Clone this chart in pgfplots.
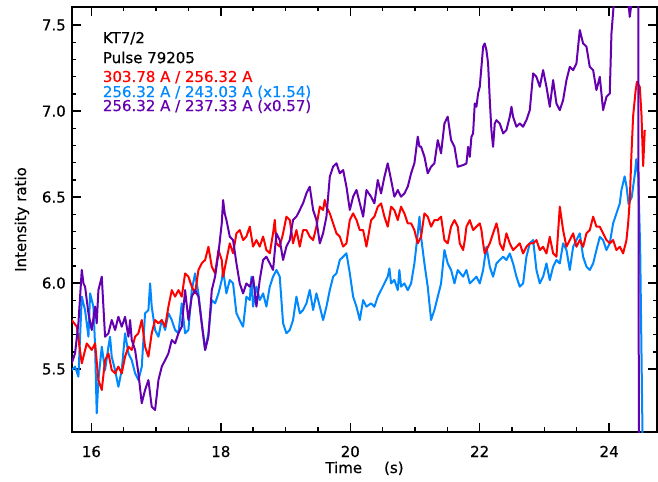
\documentclass[border=0pt]{standalone}
\usepackage{pgfplots}
\pgfplotsset{compat=1.18}
\usepackage{fontspec}
\setmainfont[FakeBold=0.5]{DejaVu Sans}
\definecolor{cred}{RGB}{255,0,0}
\definecolor{cblue}{RGB}{0,136,255}
\definecolor{cpurp}{RGB}{100,0,176}
\begin{document}
\fontsize{15bp}{17bp}\selectfont
\begin{tikzpicture}
\begin{axis}[
 scale only axis, width=585bp, height=425bp,
 xmin=15.70, xmax=24.74, ymin=5.134, ymax=7.605,
 xtick={16,18,20,22,24}, minor x tick num=3,
 ytick={5.5,6.0,6.5,7.0,7.5}, minor y tick num=4,
 tick pos=both, tick align=inside,
 major tick length=9bp, minor tick length=4.5bp,
 every tick/.style={black, line width=1.4bp},
 axis line style={line width=1.6bp},
 /pgf/number format/assume math mode=true,
 every x tick label/.style={anchor=base, yshift=-25bp},
 every y tick label/.style={anchor=east, inner sep=0pt, xshift=-6bp},
 yticklabel={\pgfmathprintnumber[fixed,fixed zerofill,precision=1]{\tick}},
 xlabel={Time\hspace{22bp}(s)},
 ylabel={Intensity ratio},
 every axis x label/.style={at={(axis description cs:0.5,-0.0965)}, anchor=base},
 every axis y label/.style={at={(axis description cs:-0.0786,0.5)}, anchor=base, rotate=90},
 every axis plot/.append style={line width=2bp, mark=none, line join=round},
]
\coordinate (SW) at (rel axis cs:0,0);
\coordinate (NE) at (rel axis cs:1,1);
% blue
\addplot[cblue] coordinates {
(15.696,5.494)(15.747,5.514)(15.799,5.456)(15.851,5.921)(15.902,5.843)(15.954,5.688)(15.980,5.940)(16.031,5.863)(16.057,5.630)(16.082,5.242)(16.108,5.436)(16.160,5.630)(16.211,5.494)(16.263,5.630)(16.288,5.688)(16.314,5.572)(16.366,5.494)(16.417,5.397)(16.469,5.494)(16.520,5.708)(16.572,5.591)(16.623,5.552)(16.675,5.475)(16.726,5.436)(16.778,5.514)(16.829,5.824)(16.881,5.843)(16.907,5.998)(16.932,5.863)(16.984,5.727)(17.036,5.688)(17.087,5.785)(17.139,5.727)(17.190,5.824)(17.242,5.785)(17.293,5.727)(17.345,5.708)(17.396,5.882)(17.448,5.708)(17.499,5.727)(17.551,5.959)(17.602,6.056)(17.654,5.940)(17.705,5.766)(17.757,5.611)(17.808,5.708)(17.860,5.901)(17.911,5.882)(17.963,5.940)(18.014,6.017)
(18.035,6.076)(18.086,5.940)(18.138,6.018)(18.189,5.998)(18.241,5.824)(18.292,5.785)(18.344,5.746)(18.395,5.921)(18.447,5.901)(18.472,6.037)(18.498,5.863)(18.550,5.979)(18.601,5.901)(18.653,5.940)(18.704,5.863)(18.756,5.979)(18.807,6.037)(18.859,6.076)(18.910,6.037)(18.962,5.766)(19.013,5.708)(19.065,5.727)(19.116,5.785)(19.168,5.921)(19.220,5.824)(19.271,5.843)(19.323,5.882)(19.374,5.960)(19.426,5.843)(19.477,5.940)(19.529,5.863)(19.580,5.785)(19.632,5.863)(19.684,5.960)(19.735,6.037)(19.787,6.057)(19.838,6.134)(19.890,6.153)(19.941,6.173)(19.993,6.057)(20.044,5.921)(20.096,5.863)(20.147,5.785)(20.199,5.901)(20.250,5.863)
(20.322,5.882)(20.373,5.862)(20.425,5.921)(20.476,5.959)(20.528,5.998)(20.579,6.037)(20.605,6.085)(20.631,5.998)(20.682,6.018)(20.734,5.959)(20.759,6.076)(20.785,5.979)(20.837,5.998)(20.888,5.959)(20.940,5.998)(20.991,6.114)(21.043,6.289)(21.069,6.386)(21.094,6.269)(21.146,6.114)(21.197,5.979)(21.249,5.785)(21.300,5.843)(21.352,5.921)(21.403,5.998)(21.455,6.192)(21.506,6.114)(21.558,6.076)(21.610,5.998)(21.661,6.076)
(21.744,6.037)(21.795,6.076)(21.847,5.998)(21.898,6.017)(21.950,6.037)(22.001,5.998)(22.053,6.076)(22.104,6.211)(22.156,6.095)(22.207,6.037)(22.259,6.114)(22.310,6.134)(22.362,6.153)(22.413,6.134)(22.465,6.172)(22.516,6.114)(22.568,6.037)(22.619,5.979)(22.671,5.998)(22.722,6.153)(22.774,6.231)(22.826,6.250)(22.877,6.076)(22.929,5.998)(22.980,6.037)(23.032,6.114)(23.083,6.017)(23.135,6.095)(23.186,6.134)(23.238,6.114)(23.289,6.231)(23.341,6.192)(23.392,6.076)(23.444,6.211)(23.495,6.250)(23.547,6.289)(23.598,6.153)(23.650,6.095)(23.701,6.076)(23.753,6.114)(23.804,6.192)(23.856,6.269)(23.907,6.250)(23.959,6.192)(24.010,6.231)(24.062,6.347)(24.113,6.405)(24.165,6.463)(24.19,6.54)(24.24,6.62)(24.27,6.56)(24.30,6.46)(24.35,6.50)(24.40,6.64)(24.42,6.72)(24.45,6.62)(24.48,6.20)(24.52,5.0)
};
% red
\addplot[cred] coordinates {
(15.696,5.785)(15.774,5.746)(15.851,5.533)(15.928,5.649)(16.005,5.611)(16.057,5.649)(16.108,5.436)(16.160,5.378)(16.211,5.552)(16.263,5.591)(16.314,5.494)(16.366,5.475)(16.417,5.514)(16.469,5.475)(16.520,5.572)(16.572,5.630)(16.623,5.611)(16.675,5.688)(16.726,5.708)(16.778,5.785)(16.829,5.630)(16.881,5.572)(16.932,5.708)(16.984,5.785)(17.036,5.766)(17.087,5.785)(17.139,5.746)(17.190,5.863)(17.242,5.959)(17.293,5.921)(17.345,5.959)(17.396,5.921)(17.448,6.056)(17.499,6.037)(17.551,5.979)(17.602,5.940)(17.654,6.076)(17.705,6.115)(17.757,6.134)(17.808,6.211)(17.860,6.095)(17.911,6.056)(17.963,6.192)(18.014,6.134)
(18.035,6.037)(18.086,6.134)(18.138,6.231)(18.189,6.173)(18.241,6.289)(18.292,6.308)(18.344,6.250)(18.395,6.270)(18.447,6.328)(18.498,6.212)(18.550,6.250)(18.601,6.212)(18.653,6.270)(18.704,6.192)(18.756,6.173)(18.807,6.289)(18.833,6.367)(18.859,6.231)(18.910,6.212)(18.962,6.289)(19.013,6.386)(19.065,6.367)(19.116,6.231)(19.168,6.308)(19.220,6.212)(19.271,6.308)(19.323,6.308)(19.374,6.270)(19.426,6.250)(19.477,6.328)(19.529,6.444)(19.580,6.425)(19.606,6.483)(19.632,6.444)(19.684,6.405)(19.735,6.347)(19.787,6.289)(19.838,6.270)(19.890,6.212)(19.941,6.231)(19.993,6.367)(20.044,6.405)(20.096,6.367)(20.147,6.308)(20.199,6.308)(20.250,6.212)
(20.322,6.366)(20.373,6.386)(20.425,6.444)(20.476,6.463)(20.528,6.386)(20.579,6.328)(20.631,6.444)(20.682,6.424)(20.734,6.366)(20.785,6.444)(20.837,6.405)(20.888,6.347)(20.940,6.347)(20.991,6.308)(21.043,6.231)(21.094,6.269)(21.146,6.405)(21.197,6.386)(21.249,6.328)(21.300,6.366)(21.352,6.366)(21.403,6.386)(21.455,6.250)(21.506,6.231)(21.558,6.328)(21.610,6.366)(21.661,6.328)
(21.692,6.231)(21.744,6.192)(21.770,6.250)(21.795,6.328)(21.847,6.366)(21.898,6.308)(21.950,6.328)(22.001,6.347)(22.027,6.308)(22.053,6.231)(22.078,6.172)(22.104,6.192)(22.156,6.231)(22.207,6.289)(22.259,6.347)(22.284,6.308)(22.310,6.231)(22.362,6.192)(22.413,6.289)(22.465,6.231)(22.516,6.192)(22.568,6.211)(22.619,6.231)(22.671,6.172)(22.722,6.211)(22.774,6.231)(22.826,6.231)(22.877,6.250)(22.929,6.192)(22.980,6.211)(23.032,6.172)(23.083,6.269)(23.135,6.172)(23.186,6.153)(23.238,6.444)(23.289,6.308)(23.341,6.211)(23.392,6.250)(23.444,6.289)(23.495,6.211)(23.547,6.250)(23.598,6.211)(23.650,6.289)(23.701,6.308)(23.753,6.386)(23.804,6.328)(23.856,6.328)(23.907,6.289)(23.959,6.250)(24.010,6.231)(24.062,6.250)(24.113,6.192)(24.165,6.211)(24.216,6.172)(24.268,6.250)(24.294,6.347)(24.319,6.48)(24.345,6.75)(24.371,6.97)(24.410,7.12)(24.430,7.17)(24.474,7.14)(24.500,6.98)(24.526,6.68)(24.551,6.89)
};
% purple
\addplot[cpurp] coordinates {
(15.696,5.533)(15.747,5.591)(15.799,5.766)(15.851,6.076)(15.877,5.998)(15.902,5.979)(15.954,5.824)(16.005,5.727)(16.057,5.863)(16.082,5.766)(16.108,5.959)(16.160,6.037)(16.211,5.688)(16.263,5.708)(16.314,5.785)(16.366,5.727)(16.417,5.804)(16.469,5.746)(16.520,5.804)(16.572,5.688)(16.598,5.785)(16.623,5.669)(16.675,5.611)(16.726,5.475)(16.778,5.301)(16.829,5.378)(16.881,5.436)(16.932,5.281)(16.984,5.262)(17.036,5.436)(17.087,5.514)(17.139,5.552)(17.190,5.591)(17.242,5.669)(17.293,5.649)(17.345,5.708)(17.396,5.746)(17.448,5.959)(17.499,5.785)(17.551,5.921)(17.602,5.959)(17.654,5.921)(17.705,5.766)(17.757,5.611)(17.808,5.688)(17.860,5.959)(17.911,6.037)(17.963,6.173)(18.014,6.347)
(18.035,6.483)(18.060,6.405)(18.086,6.367)(18.138,6.270)(18.189,6.250)(18.241,6.115)(18.292,5.998)(18.344,5.940)(18.395,5.998)(18.447,5.979)(18.498,6.037)(18.550,5.863)(18.601,6.018)(18.653,6.134)(18.704,6.153)(18.756,6.115)(18.807,6.076)(18.859,6.289)(18.910,6.250)(18.962,6.134)(19.013,6.212)(19.065,6.250)(19.116,6.367)(19.168,6.386)(19.220,6.425)(19.271,6.464)(19.323,6.522)(19.374,6.560)(19.426,6.425)(19.477,6.367)(19.529,6.231)(19.580,6.289)(19.632,6.386)(19.684,6.619)(19.735,6.677)(19.787,6.696)(19.838,6.638)(19.890,6.657)(19.941,6.560)(19.993,6.425)(20.044,6.502)(20.096,6.541)(20.147,6.464)(20.199,6.386)(20.250,6.541)
(20.322,6.502)(20.373,6.463)(20.425,6.599)(20.476,6.521)(20.528,6.618)(20.579,6.696)(20.631,6.599)(20.682,6.502)(20.734,6.541)(20.785,6.502)(20.837,6.521)(20.888,6.560)(20.940,6.638)(20.991,6.696)(21.043,6.851)(21.069,6.793)(21.094,6.793)(21.146,6.735)(21.197,6.638)(21.249,6.676)(21.300,6.696)(21.352,6.831)(21.403,6.754)(21.455,6.928)(21.506,6.967)(21.558,6.831)(21.610,6.793)(21.661,6.676)
(21.744,6.686)(21.795,6.695)(21.821,6.792)(21.847,6.734)(21.872,6.850)(21.898,6.870)(21.924,7.044)(21.950,7.025)(21.975,7.102)(22.001,7.141)(22.053,7.374)(22.078,7.393)(22.104,7.354)(22.130,7.277)(22.156,7.064)(22.181,6.889)(22.207,6.792)(22.233,6.928)(22.259,6.947)(22.310,6.928)(22.362,6.870)(22.413,6.889)(22.465,6.967)(22.491,7.025)(22.516,6.967)(22.568,6.909)(22.619,6.928)(22.671,6.909)(22.722,6.947)(22.774,7.005)(22.826,7.219)(22.877,7.199)(22.929,7.141)(22.980,7.238)(23.032,7.141)(23.083,7.025)(23.135,7.180)(23.186,7.044)(23.238,7.005)(23.289,7.064)(23.341,7.180)(23.392,7.257)(23.444,7.238)(23.495,7.277)(23.547,7.471)(23.598,7.393)(23.650,7.374)(23.701,7.257)(23.753,7.238)(23.804,7.122)(23.856,7.199)(23.907,7.005)(23.959,7.083)(24.010,7.102)(24.036,7.451)(24.088,7.70)(24.165,7.80)(24.268,7.75)(24.319,7.548)(24.371,7.70)(24.45,7.75)(24.46,5.0)
};
\begin{scope}[every node/.style={anchor=base west, inner sep=0pt}]
\node at (axis cs:16.175,7.395) {KT7/2};
\node at (axis cs:16.175,7.279) {Pulse 79205};
\node[text=cred] at (axis cs:16.175,7.169) {303.78 A / 256.32 A};
\node[text=cblue] at (axis cs:16.175,7.081) {256.32 A / 243.03 A (x1.54)};
\node[text=cpurp] at (axis cs:16.175,7.0) {256.32 A / 237.33 A (x0.57)};
\end{scope}
\end{axis}
\pgfresetboundingbox
\path[use as bounding box] ([shift={(-72bp,-50bp)}]SW) rectangle ([shift={(1bp,7bp)}]NE);
\end{tikzpicture}
\end{document}
